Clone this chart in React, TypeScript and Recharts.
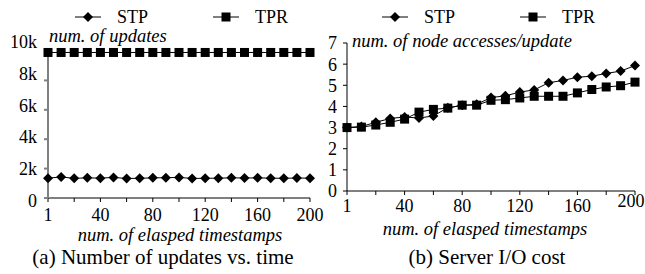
import React from "react";
import { LineChart, Line, XAxis, YAxis } from "recharts";

const timestamps = [1, 10, 20, 30, 40, 50, 60, 70, 80, 90, 100, 110, 120, 130, 140, 150, 160, 170, 180, 190, 200];
const seriesNames = ["STP", "TPR"];

// (a) number of updates
const stpUpdates = [1350, 1430, 1340, 1370, 1350, 1400, 1330, 1340, 1370, 1380, 1400, 1330, 1340, 1350, 1370, 1360, 1370, 1350, 1340, 1360, 1350];
const tprUpdates = [9900, 9900, 9900, 9900, 9900, 9900, 9900, 9900, 9900, 9900, 9900, 9900, 9900, 9900, 9900, 9900, 9900, 9900, 9900, 9900, 9900];
const updatesTicks = [0, 2000, 4000, 6000, 8000, 10000];

// (b) server I/O cost
const stpIO = [3.0, 3.05, 3.25, 3.43, 3.5, 3.45, 3.55, 3.94, 4.05, 4.1, 4.42, 4.5, 4.68, 4.78, 5.12, 5.23, 5.38, 5.43, 5.56, 5.67, 5.93];
const tprIO = [3.0, 3.02, 3.12, 3.25, 3.4, 3.73, 3.86, 3.92, 4.06, 4.06, 4.29, 4.32, 4.4, 4.48, 4.48, 4.48, 4.64, 4.8, 4.92, 4.98, 5.15];
const ioTicks = [0, 1, 2, 3, 4, 5, 6, 7];

const xTicks = [0, 2, 4, 6, 8, 10, 12, 14, 16, 18, 20];

const updatesData = timestamps.map((t, i) => ({ idx: i, t, stp: stpUpdates[i], tpr: tprUpdates[i] }));
const ioData = timestamps.map((t, i) => ({ idx: i, t, stp: stpIO[i], tpr: tprIO[i] }));

const FONT = '"Liberation Serif", "Times New Roman", serif';

const xLabel = (v: number) => (v % 4 === 0 ? String(timestamps[v]) : "");
const kLabel = (v: number) => (v === 0 ? "0" : `${v / 1000}k`);

// labels in the original sit a little off their ticks, spread wider than the axis
const KTick = (props: any) => {
    const { x, y, payload } = props;
    const v = payload.value;
    const shift = -9 + (1 - v / 10000) * 12;
    return (
        <text x={x} y={y + shift} textAnchor="end" dominantBaseline="central" fontSize={18} fontFamily={FONT} fill="#000">
            {kLabel(v)}
        </text>
    );
};

// the last label on the right chart is pulled in from the page edge and sits higher
const IOXTick = (props: any) => {
    const { x, y, payload } = props;
    const v = payload.value;
    const last = v === 20;
    return (
        <text x={last ? x - 4 : x} y={last ? y - 5 : y} dy="0.71em" textAnchor="middle" fontSize={18} fontFamily={FONT} fill="#000">
            {xLabel(v)}
        </text>
    );
};

const Diamond = (props: any) => {
    const { cx, cy, index } = props;
    const s = 5;
    return <path key={`d-${index}`} d={`M${cx},${cy - s}L${cx + s},${cy}L${cx},${cy + s}L${cx - s},${cy}Z`} fill="#000" />;
};

const Square = (props: any) => {
    const { cx, cy, index } = props;
    const s = 4.5;
    return <rect key={`s-${index}`} x={cx - s} y={cy - s} width={s * 2} height={s * 2} fill="#000" />;
};

const LegendItem = ({ left, name, shape }: { left: number; name: string; shape: "d" | "s" }) => (
    <div style={{ position: "absolute", left, top: 6, height: 22, display: "flex", alignItems: "center" }}>
        <svg width={26} height={14}>
            <line x1={0} y1={7} x2={26} y2={7} stroke="#000" strokeWidth={1} />
            {shape === "d" ? <path d="M13,2L18,7L13,12L8,7Z" fill="#000" /> : <rect x={8.5} y={2.5} width={9} height={9} fill="#000" />}
        </svg>
        <span style={{ marginLeft: 16, fontSize: 18, lineHeight: "18px" }}>{name}</span>
    </div>
);

const Txt = ({ x, y, children, italic, size = 18.5, center }: any) => (
    <div
        style={{
            position: "absolute",
            left: center ? x - 200 : x,
            width: center ? 400 : undefined,
            textAlign: center ? "center" : "left",
            top: y - size * 0.5,
            fontSize: size,
            lineHeight: `${size}px`,
            fontStyle: italic ? "italic" : "normal",
            whiteSpace: "nowrap",
        }}
    >
        {children}
    </div>
);

const tickStyle = { fontSize: 18, fill: "#000", fontFamily: FONT };

export default function App() {
    return (
        <div style={{ position: "absolute", left: 0, top: 0, width: 645, height: 274, background: "#fff", fontFamily: FONT, color: "#000", overflow: "hidden" }}>
            <div style={{ position: "absolute", left: 0, top: 0 }}>
                <LineChart width={330} height={274} data={updatesData} margin={{ top: 51, right: 20, bottom: 46, left: 0 }}>
                    <XAxis
                        dataKey="idx"
                        type="number"
                        domain={[0, 20]}
                        ticks={xTicks}
                        tickFormatter={xLabel}
                        interval={0}
                        tick={tickStyle}
                        stroke="#000"
                        tickSize={4}
                        tickMargin={6}
                    />
                    <YAxis
                        width={48}
                        domain={[0, 10000]}
                        ticks={updatesTicks}
                        interval={0}
                        tick={<KTick />}
                        stroke="#808080"
                        strokeWidth={2}
                        tickSize={4}
                        tickMargin={7}
                    />
                    <Line dataKey="stp" name={seriesNames[0]} stroke="#000" strokeWidth={1} dot={Diamond} isAnimationActive={false} />
                    <Line dataKey="tpr" name={seriesNames[1]} stroke="#000" strokeWidth={1} dot={Square} isAnimationActive={false} />
                </LineChart>
            </div>
            <div style={{ position: "absolute", left: 320, top: 0 }}>
                <LineChart width={325} height={274} data={ioData} margin={{ top: 43, right: 10, bottom: 53, left: 0 }}>
                    <XAxis
                        dataKey="idx"
                        type="number"
                        domain={[0, 20]}
                        ticks={xTicks}
                        interval={0}
                        tick={<IOXTick />}
                        stroke="#000"
                        tickSize={4}
                        tickMargin={4}
                    />
                    <YAxis
                        width={27}
                        domain={[0, 7]}
                        ticks={ioTicks}
                        interval={0}
                        tick={tickStyle}
                        stroke="#000"
                        tickSize={4}
                        tickMargin={6}
                    />
                    <Line dataKey="stp" name={seriesNames[0]} stroke="#000" strokeWidth={1} dot={Diamond} isAnimationActive={false} />
                    <Line dataKey="tpr" name={seriesNames[1]} stroke="#000" strokeWidth={1} dot={Square} isAnimationActive={false} />
                </LineChart>
            </div>

            <LegendItem left={75} name={seriesNames[0]} shape="d" />
            <LegendItem left={213} name={seriesNames[1]} shape="s" />
            <LegendItem left={382} name={seriesNames[0]} shape="d" />
            <LegendItem left={520} name={seriesNames[1]} shape="s" />

            <Txt x={49} y={36.5} italic>num. of updates</Txt>
            <Txt x={352} y={41} italic>num. of node accesses/update</Txt>
            <Txt x={180} y={235} italic center>num. of elasped timestamps</Txt>
            <Txt x={485} y={229} italic center>num. of elasped timestamps</Txt>
            <Txt x={163} y={257} size={21} center>(a) Number of updates vs. time</Txt>
            <Txt x={487} y={257} size={21} center>(b) Server I/O cost</Txt>
        </div>
    );
}
